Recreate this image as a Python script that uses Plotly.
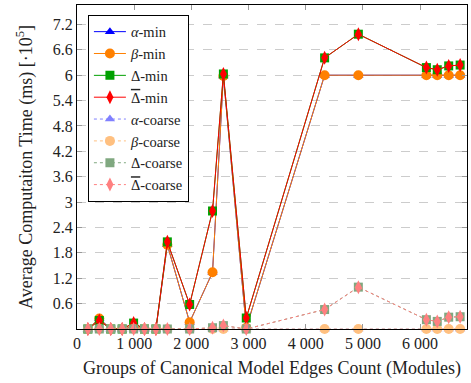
import plotly.graph_objects as go

# ---- data (values in units of 10^5 ms) ----
edges = [190, 390, 590, 790, 990, 1180, 1380, 1580, 1970, 2370, 2560, 2960,
         4330, 4920, 6110, 6300, 6500, 6700]

alpha_min = [0, 0.25, 0, 0, 0.05, 0, 0, 1.99, 0.16, 1.34, 5.98, 0.03,
             6.0, 6.0, 6.0, 6.0, 6.0, 6.0]
beta_min = [0, 0.25, 0, 0, 0.05, 0, 0, 1.99, 0.16, 1.34, 5.98, 0.03,
            6.0, 6.0, 6.0, 6.0, 6.0, 6.0]
delta_min = [0, 0.20, 0, 0, 0.14, 0, 0, 2.06, 0.58, 2.79, 6.03, 0.26,
             6.41, 6.97, 6.18, 6.13, 6.22, 6.24]
deltabar_min = [0, 0.20, 0, 0, 0.14, 0, 0, 2.06, 0.58, 2.79, 6.03, 0.26,
                6.41, 6.97, 6.18, 6.13, 6.22, 6.24]

alpha_coarse = [0, 0, 0, 0, 0, 0, 0, 0, 0, 0, 0, 0, 0, 0, 0, 0, 0, 0]
beta_coarse = [0, 0, 0, 0, 0, 0, 0, 0, 0, 0, 0, 0, 0, 0, 0, 0, 0, 0]
delta_coarse = [0, 0, 0, 0, 0, 0, 0, 0, 0, 0.03, 0.08, 0,
                0.46, 0.99, 0.22, 0.18, 0.28, 0.29]
deltabar_coarse = [0, 0, 0, 0, 0, 0, 0, 0, 0, 0.03, 0.08, 0,
                   0.46, 0.99, 0.22, 0.18, 0.28, 0.29]

x_tickvals = [0, 1000, 2000, 3000, 4000, 5000, 6000]
x_ticktext = ["0", "1 000", "2 000", "3 000", "4 000", "5 000", "6 000"]
y_tickvals = [0.6, 1.2, 1.8, 2.4, 3, 3.6, 4.2, 4.8, 5.4, 6, 6.6, 7.2]
y_ticktext = ["0.6", "1.2", "1.8", "2.4", "3", "3.6", "4.2", "4.8", "5.4", "6", "6.6", "7.2"]

FONT = "Liberation Serif"
DBAR = '<span style="text-decoration:overline">Δ</span>'

series = [
    ("<i>α</i>-min", alpha_min, "#0000ff", "triangle-up", "solid", 9),
    ("<i>β</i>-min", beta_min, "#ff8000", "circle", "solid", 10),
    ("Δ-min", delta_min, "#00a000", "square", "solid", 9),
    (DBAR + "-min", deltabar_min, "#ff0000", "diamond-tall", "solid", 10),
    ("<i>α</i>-coarse", alpha_coarse, "#8080ff", "triangle-up", "dot", 9),
    ("<i>β</i>-coarse", beta_coarse, "#ffc080", "circle", "dot", 10),
    ("Δ-coarse", delta_coarse, "#80a880", "square", "dot", 9),
    (DBAR + "-coarse", deltabar_coarse, "#ff8080", "diamond-tall", "dot", 10),
]

fig = go.Figure()
for name, vals, col, sym, dash, size in series:
    fig.add_trace(go.Scatter(
        x=edges, y=vals, name=name, mode="lines+markers",
        line=dict(color=col, width=1, dash=dash),
        marker=dict(color=col, symbol=sym, size=size, line=dict(width=0)),
        cliponaxis=False,
    ))

fig.update_layout(
    width=471, height=383,
    margin=dict(l=77, r=4, t=5, b=54),
    paper_bgcolor="white", plot_bgcolor="white",
    font=dict(family=FONT, size=15, color="#222"),
    showlegend=True,
    legend=dict(
        x=0.028, y=0.97, xanchor="left", yanchor="top",
        bgcolor="white", bordercolor="black", borderwidth=1,
        font=dict(family=FONT, size=14.5, color="#222"),
        itemwidth=32, tracegroupgap=0,
    ),
    xaxis=dict(
        range=[0, 6820], tickvals=x_tickvals, ticktext=x_ticktext,
        showgrid=False, zeroline=False, automargin=False,
        showline=True, linecolor="black", linewidth=1, mirror="ticks",
        ticks="inside", ticklen=5, tickcolor="#999", tickwidth=1,
        tickfont=dict(family=FONT, size=16, color="#222"),
        title=dict(text="Groups of Canonical Model Edges Count (Modules)",
                   font=dict(family=FONT, size=18, color="#222"), standoff=10),
    ),
    yaxis=dict(
        range=[0, 7.66], tickvals=y_tickvals, ticktext=y_ticktext,
        showgrid=True, gridcolor="#cccccc", griddash="dash", gridwidth=1,
        zeroline=False, automargin=False,
        showline=True, linecolor="black", linewidth=1, mirror="ticks",
        ticks="inside", ticklen=5, tickcolor="#999", tickwidth=1,
        tickfont=dict(family=FONT, size=16, color="#222"),
        title=dict(text="Average Computaiton Time (ms) [·10<sup>5</sup>]",
                   font=dict(family=FONT, size=18, color="#222"), standoff=15),
    ),
)

fig.write_html("out.html",
               config={"displayModeBar": False, "staticPlot": True},
               post_script="document.body.style.margin='0';document.body.style.overflow='hidden';")
